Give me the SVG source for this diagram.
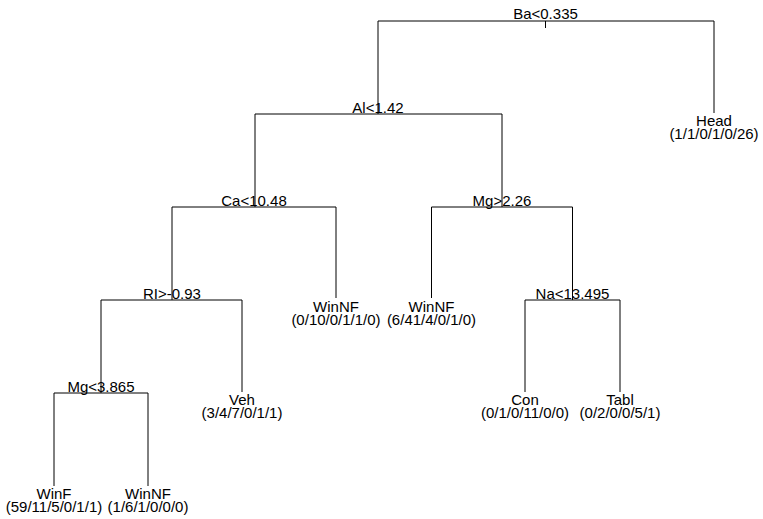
<svg xmlns="http://www.w3.org/2000/svg" width="763" height="519" viewBox="0 0 763 519">
<style>
text{font-family:"Liberation Sans",Arial,sans-serif;font-size:15px;fill:#000;text-anchor:middle}
.c path{fill:none;stroke:#000;stroke-width:1}
</style>
<rect width="763" height="519" fill="#fff"/>
<g class="c" id="connectors">
<path d="M378,21H714M545.5,21V28"/>
<path d="M378,21V114M714,21V113"/>
<path d="M255,114H502"/>
<path d="M255,114V207M502,114V207"/>
<path d="M172,207H336M431.5,207H572.5"/>
<path d="M172,207V300M336,207V298M431.5,207V298M572.5,207V300"/>
<path d="M101,300H242M525,300H620"/>
<path d="M101,300V393M242,300V392M525,300V392M620,300V392"/>
<path d="M54,393H148"/>
<path d="M54,393V486M148,393V486"/>
</g>
<g id="n-ba"><text x="545.5" y="19">Ba&lt;0.335</text></g>
<g id="n-al"><text x="378" y="112.5">Al&lt;1.42</text></g>
<g id="n-head"><text x="714" y="126">Head</text><text x="714" y="139">(1/1/0/1/0/26)</text></g>
<g id="n-ca"><text x="254" y="205.5">Ca&lt;10.48</text></g>
<g id="n-mg1"><text x="502" y="205.5">Mg&gt;2.26</text></g>
<g id="n-ri"><text x="172" y="298.5">RI&gt;-0.93</text></g>
<g id="n-winnf1"><text x="336" y="311.5">WinNF</text><text x="336" y="324.5">(0/10/0/1/1/0)</text></g>
<g id="n-winnf2"><text x="431.5" y="311.5">WinNF</text><text x="431.5" y="324.5">(6/41/4/0/1/0)</text></g>
<g id="n-na"><text x="572.5" y="298.5">Na&lt;13.495</text></g>
<g id="n-mg2"><text x="101" y="391.5">Mg&lt;3.865</text></g>
<g id="n-veh"><text x="242" y="405">Veh</text><text x="242" y="418">(3/4/7/0/1/1)</text></g>
<g id="n-con"><text x="525" y="405">Con</text><text x="525" y="418">(0/1/0/11/0/0)</text></g>
<g id="n-tabl"><text x="620" y="405">Tabl</text><text x="620" y="418">(0/2/0/0/5/1)</text></g>
<g id="n-winf"><text x="54" y="499">WinF</text><text x="54" y="512">(59/11/5/0/1/1)</text></g>
<g id="n-winnf3"><text x="148" y="499">WinNF</text><text x="148" y="512">(1/6/1/0/0/0)</text></g>
</svg>
